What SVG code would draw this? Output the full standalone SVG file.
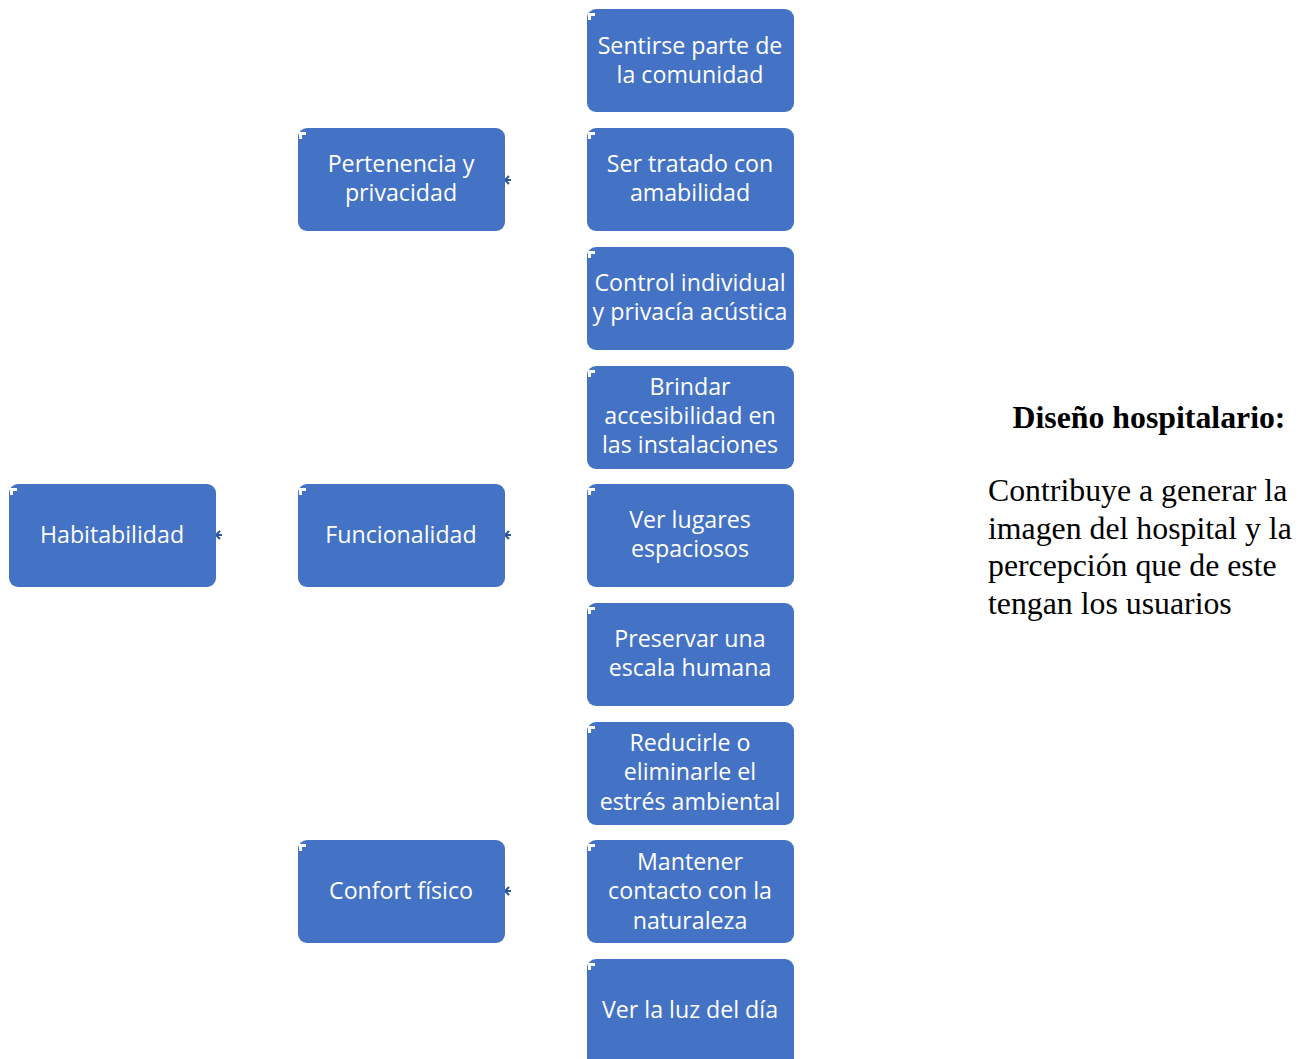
<svg xmlns="http://www.w3.org/2000/svg" width="1311" height="1059" viewBox="0 0 1311 1059">
<style>
.box{fill:#4472C4;}
.t{font-family:"Open Sans","Noto Sans",sans-serif;font-size:23.2px;fill:#FFFFFF;text-anchor:middle;}
.cm{fill:#FFFFFF;}
.ci{fill:#4472C4;}
.conn{stroke:#2F5597;stroke-width:2;fill:none;}
.h{font-family:"Liberation Serif","Times New Roman",serif;font-size:31.8px;font-weight:bold;fill:#000;text-anchor:middle;}
.b{font-family:"Liberation Serif","Times New Roman",serif;font-size:31.8px;fill:#000;}
</style>
<defs>
<g id="corner"><rect class="cm" x="0" y="0" width="7" height="7"/><rect class="ci" x="3" y="3" width="4" height="4"/></g>
</defs>
<rect width="1311" height="1059" fill="#FFFFFF"/>
<g id="connectors">
<path class="conn" d="M222,535 H216"/><path class="conn" d="M220,531 L216,535 L220,539"/>
<path class="conn" d="M511,180 H505"/><path class="conn" d="M509,176 L505,180 L509,184"/>
<path class="conn" d="M511,535 H505"/><path class="conn" d="M509,531 L505,535 L509,539"/>
<path class="conn" d="M511,891 H505"/><path class="conn" d="M509,887 L505,891 L509,895"/>
</g>
<g id="n-habitabilidad"><rect class="box" x="9" y="484" width="207" height="103" rx="9"/><use href="#corner" x="10" y="488"/><text class="t" x="112" y="543">Habitabilidad</text></g>
<g id="n-pertenencia"><rect class="box" x="298" y="128" width="207" height="103" rx="9"/><use href="#corner" x="299" y="132"/><text class="t" x="401" y="172">Pertenencia y</text><text class="t" x="401" y="201">privacidad</text></g>
<g id="n-funcionalidad"><rect class="box" x="298" y="484" width="207" height="103" rx="9"/><use href="#corner" x="299" y="488"/><text class="t" x="401" y="543">Funcionalidad</text></g>
<g id="n-confort"><rect class="box" x="298" y="840" width="207" height="103" rx="9"/><use href="#corner" x="299" y="844"/><text class="t" x="401" y="899">Confort físico</text></g>
<g id="n-sentirse"><rect class="box" x="587" y="9" width="207" height="103" rx="9"/><use href="#corner" x="588" y="13"/><text class="t" x="690" y="54">Sentirse parte de</text><text class="t" x="690" y="83">la comunidad</text></g>
<g id="n-ser"><rect class="box" x="587" y="128" width="207" height="103" rx="9"/><use href="#corner" x="588" y="132"/><text class="t" x="690" y="172">Ser tratado con</text><text class="t" x="690" y="201">amabilidad</text></g>
<g id="n-control"><rect class="box" x="587" y="247" width="207" height="103" rx="9"/><use href="#corner" x="588" y="251"/><text class="t" x="690" y="291">Control individual</text><text class="t" x="690" y="320">y privacía acústica</text></g>
<g id="n-brindar"><rect class="box" x="587" y="366" width="207" height="103" rx="9"/><use href="#corner" x="588" y="370"/><text class="t" x="690" y="395">Brindar</text><text class="t" x="690" y="424">accesibilidad en</text><text class="t" x="690" y="453">las instalaciones</text></g>
<g id="n-ver-lugares"><rect class="box" x="587" y="484" width="207" height="103" rx="9"/><use href="#corner" x="588" y="488"/><text class="t" x="690" y="528">Ver lugares</text><text class="t" x="690" y="557">espaciosos</text></g>
<g id="n-preservar"><rect class="box" x="587" y="603" width="207" height="103" rx="9"/><use href="#corner" x="588" y="607"/><text class="t" x="690" y="647">Preservar una</text><text class="t" x="690" y="676">escala humana</text></g>
<g id="n-reducir"><rect class="box" x="587" y="722" width="207" height="103" rx="9"/><use href="#corner" x="588" y="726"/><text class="t" x="690" y="751">Reducirle o</text><text class="t" x="690" y="780">eliminarle el</text><text class="t" x="690" y="810">estrés ambiental</text></g>
<g id="n-mantener"><rect class="box" x="587" y="840" width="207" height="103" rx="9"/><use href="#corner" x="588" y="844"/><text class="t" x="690" y="870">Mantener</text><text class="t" x="690" y="899">contacto con la</text><text class="t" x="690" y="929">naturaleza</text></g>
<g id="n-luz"><rect class="box" x="587" y="959" width="207" height="110" rx="9"/><use href="#corner" x="588" y="963"/><text class="t" x="690" y="1018">Ver la luz del día</text></g>
<g id="n-texto">
<text class="h" x="1149" y="428">Diseño hospitalario:</text>
<text class="b" x="988" y="501">Contribuye a generar la</text>
<text class="b" x="988" y="539">imagen del hospital y la</text>
<text class="b" x="988" y="576">percepción que de este</text>
<text class="b" x="988" y="614">tengan los usuarios</text>
</g>
</svg>
